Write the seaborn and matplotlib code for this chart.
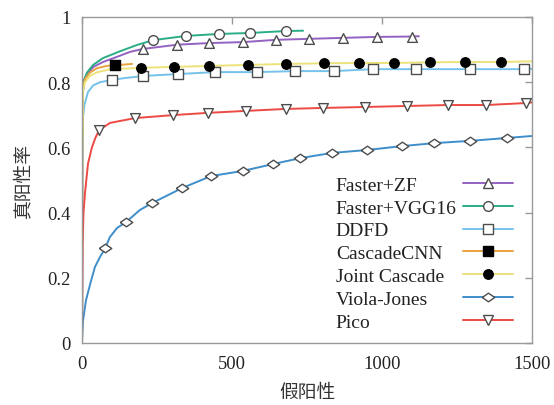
import matplotlib
matplotlib.use('Agg')
import matplotlib.pyplot as plt
from matplotlib.lines import Line2D
from matplotlib.ticker import FuncFormatter
import pandas as pd
import seaborn as sns

################################################################################
# Data (false positives vs true positive rate)
################################################################################

names = ['Faster+ZF', 'Faster+VGG16', 'DDFD', 'CascadeCNN', 'Joint Cascade', 'Viola-Jones', 'Pico']

# curves
zf_x = [0, 1, 3, 8, 20, 40, 70, 120, 160, 203, 317, 423, 537, 647, 757, 870, 983, 1100, 1123]
zf_y = [0, 0.6, 0.77, 0.81, 0.83, 0.848, 0.862, 0.879, 0.893, 0.902, 0.915, 0.92, 0.923, 0.93, 0.933, 0.936, 0.939, 0.94, 0.941]
vgg_x = [0, 1, 3, 8, 17, 37, 70, 127, 183, 237, 347, 457, 560, 680, 737]
vgg_y = [0, 0.6, 0.77, 0.81, 0.83, 0.853, 0.874, 0.895, 0.914, 0.929, 0.942, 0.948, 0.951, 0.957, 0.958]
ddfd_x = [0, 1, 3, 8, 20, 37, 60, 100, 137, 203, 320, 443, 583, 710, 840, 970, 1113, 1293, 1473, 1500]
ddfd_y = [0, 0.6, 0.69, 0.73, 0.77, 0.79, 0.8, 0.807, 0.812, 0.819, 0.825, 0.831, 0.831, 0.834, 0.834, 0.84, 0.84, 0.84, 0.84, 0.841]
ccnn_x = [0, 1, 3, 10, 27, 50, 83, 110, 167]
ccnn_y = [0, 0.6, 0.78, 0.81, 0.83, 0.843, 0.85, 0.852, 0.856]
joint_x = [0, 1, 3, 10, 27, 50, 93, 197, 307, 423, 553, 680, 807, 923, 1040, 1160, 1277, 1397, 1500]
joint_y = [0, 0.6, 0.77, 0.8, 0.82, 0.83, 0.84, 0.844, 0.847, 0.85, 0.853, 0.856, 0.858, 0.859, 0.859, 0.861, 0.862, 0.862, 0.864]
vj_x = [0, 3, 13, 27, 43, 60, 77, 93, 117, 147, 193, 233, 333, 430, 537, 637, 727, 833, 950, 1067, 1173, 1293, 1417, 1500]
vj_y = [0, 0.065, 0.13, 0.18, 0.233, 0.264, 0.29, 0.325, 0.353, 0.371, 0.408, 0.429, 0.475, 0.512, 0.528, 0.549, 0.567, 0.583, 0.592, 0.604, 0.613, 0.62, 0.629, 0.635]
pico_x = [0, 2, 5, 10, 20, 33, 45, 57, 93, 177, 303, 420, 547, 680, 803, 943, 1083, 1220, 1347, 1480, 1500]
pico_y = [0, 0.3, 0.4, 0.46, 0.55, 0.6, 0.63, 0.653, 0.675, 0.69, 0.699, 0.706, 0.712, 0.718, 0.721, 0.724, 0.727, 0.73, 0.73, 0.736, 0.738]

# marker positions
zf_mx = [203, 317, 423, 537, 647, 757, 870, 983, 1100]
zf_my = [0.902, 0.915, 0.92, 0.923, 0.93, 0.933, 0.936, 0.939, 0.94]
vgg_mx = [237, 347, 457, 560, 680]
vgg_my = [0.929, 0.942, 0.948, 0.951, 0.957]
ddfd_mx = [100, 203, 320, 443, 583, 710, 840, 970, 1113, 1293, 1473]
ddfd_my = [0.807, 0.819, 0.825, 0.831, 0.831, 0.834, 0.834, 0.84, 0.84, 0.84, 0.84]
ccnn_mx = [110]
ccnn_my = [0.852]
joint_mx = [197, 307, 423, 553, 680, 807, 923, 1040, 1160, 1277, 1397]
joint_my = [0.844, 0.847, 0.85, 0.853, 0.856, 0.858, 0.859, 0.859, 0.861, 0.862, 0.862]
vj_mx = [77, 147, 233, 333, 430, 537, 637, 727, 833, 950, 1067, 1173, 1293, 1417]
vj_my = [0.29, 0.371, 0.429, 0.475, 0.512, 0.528, 0.549, 0.567, 0.583, 0.592, 0.604, 0.613, 0.62, 0.629]
pico_mx = [57, 177, 303, 420, 547, 680, 803, 943, 1083, 1220, 1347, 1480]
pico_my = [0.653, 0.69, 0.699, 0.706, 0.712, 0.718, 0.721, 0.724, 0.727, 0.73, 0.73, 0.736]

x_ticks = [0, 500, 1000, 1500]
y_ticks = [0, 0.2, 0.4, 0.6, 0.8, 1.0]

################################################################################
# Styles
################################################################################

colors = ['#9462c2', '#2aad86', '#74c2ea', '#eaa23e', '#ece27a', '#3e8ecb', '#ec4a42']
wide_diamond = [(-1.45, 0), (0, 1), (1.45, 0), (0, -1), (-1.45, 0)]
markers = ['^', 'o', 's', 's', 'o', wide_diamond, 'v']
faces = ['white', 'white', 'white', 'black', 'black', 'white', 'white']
edges = ['0.3', '0.3', '0.3', 'black', 'black', '0.3', '0.3']
msizes = [7, 7, 7, 6.8, 6.8, 9, 7]

curves = [(zf_x, zf_y), (vgg_x, vgg_y), (ddfd_x, ddfd_y), (ccnn_x, ccnn_y),
          (joint_x, joint_y), (vj_x, vj_y), (pico_x, pico_y)]
points = [(zf_mx, zf_my), (vgg_mx, vgg_my), (ddfd_mx, ddfd_my), (ccnn_mx, ccnn_my),
          (joint_mx, joint_my), (vj_mx, vj_my), (pico_mx, pico_my)]

sns.set_theme(style='white')
plt.rcParams['font.family'] = ['Liberation Serif', 'Noto Sans CJK SC']
plt.rcParams['axes.unicode_minus'] = False

fig = plt.figure(figsize=(5.54, 4.06), dpi=100)
ax = fig.add_axes([82/554, 62/406, 450/554, 326/406])

# long table for the curves
frames = []
for name, (cx, cy) in zip(names, curves):
    frames.append(pd.DataFrame({'fp': cx, 'tpr': cy, 'method': name}))
df = pd.concat(frames, ignore_index=True)

sns.lineplot(data=df, x='fp', y='tpr', hue='method', hue_order=names,
             palette=colors, estimator=None, sort=False, linewidth=1.4,
             legend=False, ax=ax)

for i, (mx, my) in enumerate(points):
    sns.scatterplot(x=mx, y=my, marker=markers[i], s=msizes[i]**2,
                    color=faces[i], edgecolor=edges[i], linewidth=1.0,
                    zorder=3, legend=False, ax=ax)

ax.set_xlim(0, 1500)
ax.set_ylim(0, 1)
ax.set_xticks(x_ticks)
ax.set_yticks(y_ticks)
ax.yaxis.set_major_formatter(FuncFormatter(lambda v, p: '%g' % v))
ax.tick_params(direction='in', top=True, right=True, length=5, width=1,
               color='0.6', labelsize=13.3, labelcolor='#222222')
ax.tick_params(axis='x', pad=9)
ax.tick_params(axis='y', pad=8)
for sp in ax.spines.values():
    sp.set_color('0.6')
    sp.set_linewidth(1.0)

ax.set_xlabel('假阳性', family=['Noto Sans CJK SC'], fontsize=13.5, color='#333333', labelpad=6)
ax.set_ylabel('真阳性率', family=['Noto Sans CJK SC'], fontsize=13.5, color='#333333', labelpad=10)

# legend: text column on the left, line+marker column on the right
blank = [Line2D([], [], linestyle='none') for _ in names]
leg_text = ax.legend(blank, names, loc='upper left', bbox_to_anchor=(0.564, 0.512),
                     frameon=False, fontsize=14, handlelength=0, handletextpad=0,
                     borderpad=0, borderaxespad=0, labelspacing=0.27, labelcolor='#222222')
ax.add_artist(leg_text)
handles = [Line2D([], [], color=colors[i], lw=1.4, marker=markers[i], ms=msizes[i],
                  mfc=faces[i], mec=edges[i], mew=1.0) for i in range(len(names))]
ax.legend(handles, [''] * len(names), loc='upper left', bbox_to_anchor=(0.847, 0.512),
          frameon=False, fontsize=14, handlelength=2.58, handletextpad=0,
          borderpad=0, borderaxespad=0, labelspacing=0.27)

fig.savefig('out.png', dpi=100)
